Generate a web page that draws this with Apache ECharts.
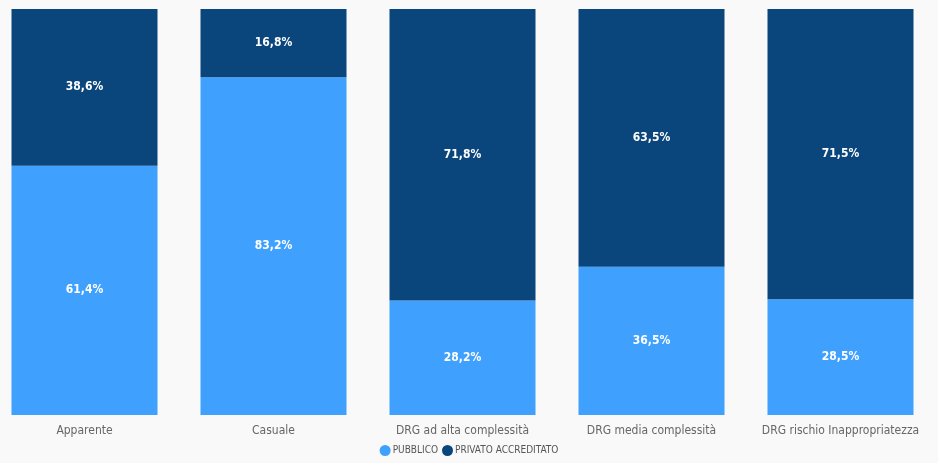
<!DOCTYPE html>
<html><head><meta charset="utf-8">
<script src="https://cdn.jsdelivr.net/npm/echarts@6/dist/echarts.min.js"></script>
<style>html,body{margin:0;padding:0;background:#f9f9f9}#c{width:938px;height:463px}</style>
</head><body><div id="c"></div>
<script>
const categories = ['Apparente','Casuale','DRG ad alta complessità','DRG media complessità','DRG rischio Inappropriatezza'];
const pubblico = [61.4, 83.2, 28.2, 36.5, 28.5];
const privato = [38.6, 16.8, 71.8, 63.5, 71.5];
const seriesNames = ['PUBBLICO','PRIVATO ACCREDITATO'];
const font = '"DejaVu Sans Condensed","Roboto","Noto Sans",sans-serif';
const chart = echarts.init(document.getElementById('c'));
const lbl = {show:true, position:'inside', color:'#ffffff', fontWeight:'bold', fontSize:12, fontFamily:font,
  formatter: p => p.value.toFixed(1).replace('.', ',') + '%'};
chart.setOption({
  backgroundColor:'#f9f9f9',
  animation:false,
  grid:{left:-10, width:945, top:9, bottom:48, containLabel:false, outerBoundsMode:'none'},
  legend:{bottom:2, left:'center', icon:'circle', itemWidth:11, itemHeight:11, itemGap:4,
    textStyle:{color:'#555', fontSize:10, fontFamily:font, padding:[0,0,0,-3]}, data:seriesNames},
  xAxis:{type:'category', data:categories, axisLine:{show:false}, axisTick:{show:false},
    axisLabel:{color:'#666', fontSize:12, fontFamily:font, margin:10, interval:0, hideOverlap:false}},
  yAxis:{type:'value', min:0, max:100, show:false, splitLine:{show:false}},
  series:[
    {name:seriesNames[0], type:'bar', stack:'a', data:pubblico, barWidth:146, itemStyle:{color:'#3fa1fd'}, label:lbl},
    {name:seriesNames[1], type:'bar', stack:'a', data:privato, barWidth:146, itemStyle:{color:'#0a457c'}, label:lbl}
  ]
});
</script></body></html>
